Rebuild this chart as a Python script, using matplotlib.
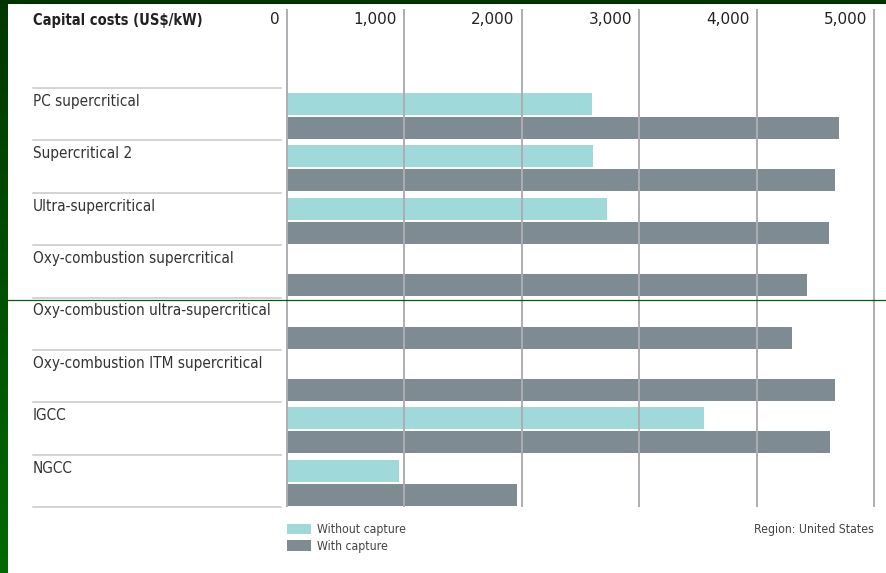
import numpy as np
import matplotlib.pyplot as plt
import matplotlib.transforms as mtransforms
from matplotlib.colors import LinearSegmentedColormap
from matplotlib.lines import Line2D
from matplotlib.patches import Rectangle

plants = ["PC supercritical", "Supercritical 2", "Ultra-supercritical",
          "Oxy-combustion supercritical", "Oxy-combustion ultra-supercritical",
          "Oxy-combustion ITM supercritical", "IGCC", "NGCC"]
without_capture = [2600, 2610, 2730, np.nan, np.nan, np.nan, 3550, 960]
with_capture = [4700, 4670, 4620, 4430, 4300, 4670, 4630, 1960]
ticks = [0, 1000, 2000, 3000, 4000, 5000]
tick_labels = ["0", "1,000", "2,000", "3,000", "4,000", "5,000"]

plt.rcParams['font.family'] = ['DejaVu Sans']
plt.rcParams['font.stretch'] = 'condensed'

W, H = 886, 573
fig = plt.figure(figsize=(W / 100, H / 100), dpi=100)

# axes in pixel terms: zero at x=286.7, 1000 units = 117.45 px
px = 0.11745
x0 = 286.7
xmax = 5050
top, bottom = 9, 507
ax = fig.add_axes([x0 / W, 1 - bottom / H, xmax * px / W, (bottom - top) / H])
pitch = (507 - 88) / 8
ax.set_xlim(0, xmax)
ax.set_ylim(8, -(88 - top) / pitch)
ax.axis('off')

y = np.arange(len(plants))
ax.barh(y + 0.305, without_capture, height=0.42, color='#a0d9da', label='Without capture', zorder=1)
ax.barh(y + 0.764, with_capture, height=0.42, color='#7f8b92', label='With capture', zorder=1)
ax.vlines(ticks, -(88 - top) / pitch, 8, color='#adadb3', lw=1.4, zorder=2, clip_on=False)

# column header + tick labels
hdr_y = -(88 - 20) / pitch
ax.text(33 / W, hdr_y, "Capital costs (US$/kW)", fontsize=10.5, fontweight='bold', color='#222222',
        va='center', ha='left', transform=mtransforms.blended_transform_factory(fig.transFigure, ax.transData))
off = mtransforms.offset_copy(ax.transData, fig=fig, x=-7, y=0, units='dots')
for t, lab in zip(ticks, tick_labels):
    ax.text(t, hdr_y, lab, fontsize=11, fontstretch='normal', fontweight='medium', color='#222222',
            ha='right', va='center', transform=off)

# row labels and separators
blend = mtransforms.blended_transform_factory(fig.transFigure, ax.transData)
for i, name in enumerate(plants):
    ax.text(33 / W, i + 13.5 / pitch, name, fontsize=11, color='#333333', va='center', ha='left',
            transform=blend)
for i in range(len(plants) + 1):
    ax.plot([33 / W, 281 / W], [i, i], color='#c8c8c8', lw=1.1, transform=blend, clip_on=False)

fig.legend(loc='upper left', bbox_to_anchor=(287 / W, 1 - 523 / H), frameon=False, fontsize=8.8,
           handlelength=1.95, handleheight=0.9, handletextpad=0.5, labelspacing=0.3,
           borderpad=0, borderaxespad=0, labelcolor='#444444')
fig.text(874 / W, 1 - 530 / H, "Region: United States", fontsize=8.8, color='#444444', ha='right', va='center')

# frame decorations
bax = fig.add_axes([0, 0, 8 / W, 1])
cmap = LinearSegmentedColormap.from_list('g', ['#003800', '#006a00'])
bax.imshow(np.linspace(0, 1, 100).reshape(-1, 1), aspect='auto', cmap=cmap)
bax.axis('off')
fig.add_artist(Rectangle((0, 1 - 4 / H), 1, 4 / H, transform=fig.transFigure, color='#003300', lw=0))
fig.add_artist(Line2D([8 / W, 1], [1 - 300 / H] * 2, transform=fig.transFigure, color='#0b5a0b', lw=0.9))

plt.savefig("out.png", dpi=100)
plt.close(fig)
